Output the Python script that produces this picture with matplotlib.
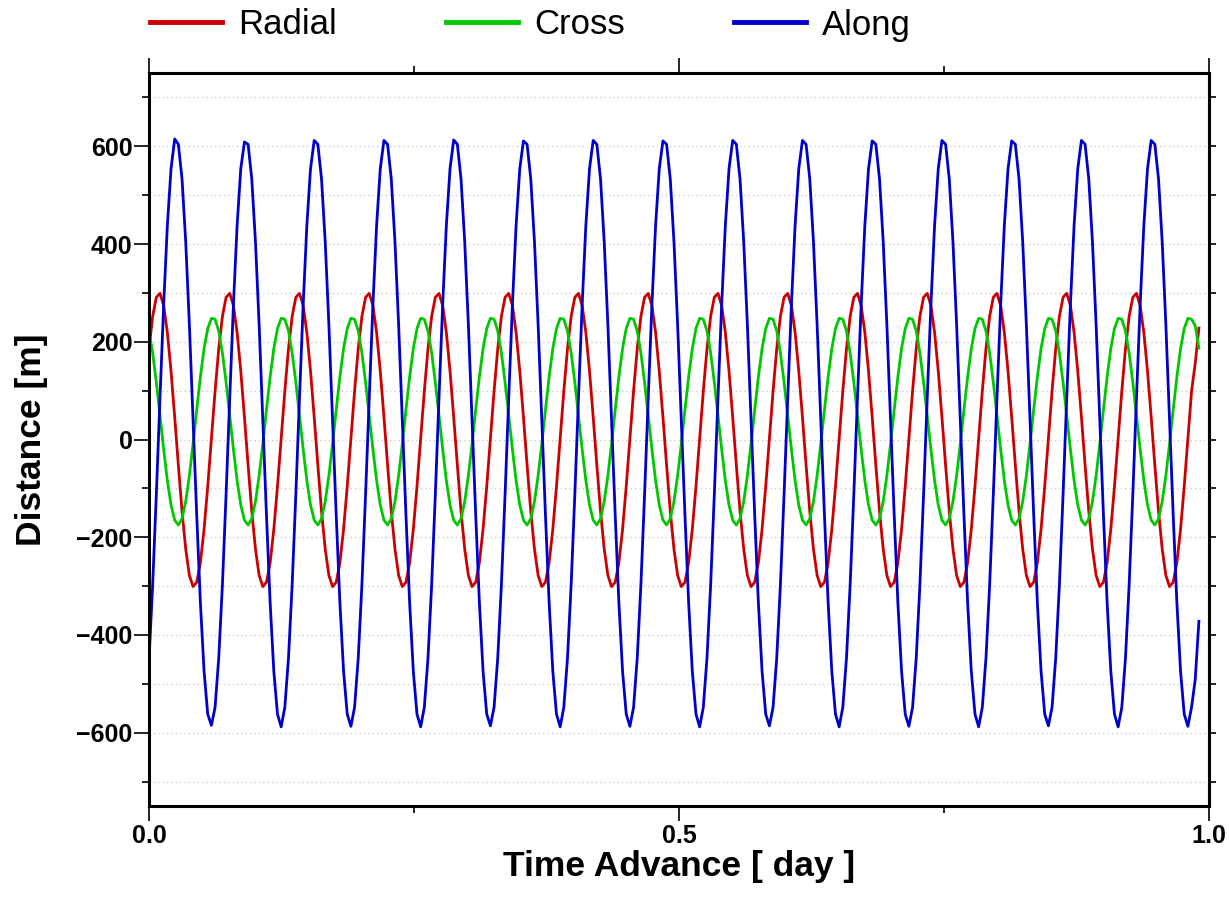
import numpy as np
import matplotlib.pyplot as plt
from matplotlib.ticker import MultipleLocator, FormatStrFormatter

plt.rcParams['font.family'] = ['Liberation Sans', 'DejaVu Sans']
plt.rcParams['font.weight'] = 'bold'

# orbit differences (m), one sample about every 5 min
dt_min = 4.987

radial = [
    186, 252, 291, 299, 274, 219, 140, 46, -53, -147, -224, -278, -301, -292, -252, -184, -96, 2, 99,
    186, 252, 291, 299, 274, 219, 140, 46, -53, -147, -224, -278, -301, -292, -252, -184, -96, 2, 99,
    186, 252, 291, 299, 274, 219, 140, 46, -53, -147, -224, -278, -301, -292, -252, -184, -96, 2, 99,
    186, 252, 291, 299, 274, 219, 140, 46, -53, -147, -224, -278, -301, -292, -252, -184, -96, 2, 99,
    186, 252, 291, 299, 274, 219, 140, 46, -53, -147, -224, -278, -301, -292, -252, -184, -96, 2, 99,
    186, 252, 291, 299, 274, 219, 140, 46, -53, -147, -224, -278, -301, -292, -252, -184, -96, 2, 99,
    186, 252, 291, 299, 274, 219, 140, 46, -53, -147, -224, -278, -301, -292, -252, -184, -96, 2, 99,
    186, 252, 291, 299, 274, 219, 140, 46, -53, -147, -224, -278, -301, -292, -252, -184, -96, 2, 99,
    186, 252, 291, 299, 274, 219, 140, 46, -53, -147, -224, -278, -301, -292, -252, -184, -96, 2, 99,
    186, 252, 291, 299, 274, 219, 140, 46, -53, -147, -224, -278, -301, -292, -252, -184, -96, 2, 99,
    186, 252, 291, 299, 274, 219, 140, 46, -53, -147, -224, -278, -301, -292, -252, -184, -96, 2, 99,
    186, 252, 291, 299, 274, 219, 140, 46, -53, -147, -224, -278, -301, -292, -252, -184, -96, 2, 99,
    186, 252, 291, 299, 274, 219, 140, 46, -53, -147, -224, -278, -301, -292, -252, -184, -96, 2, 99,
    186, 252, 291, 299, 274, 219, 140, 46, -53, -147, -224, -278, -301, -292, -252, -184, -96, 2, 99,
    186, 252, 291, 299, 274, 219, 140, 46, -53, -147, -224, -278, -301, -292, -252, -184, -96, 2, 99,
    156, 228,
]

cross = [
    222, 177, 117, 49, -20, -84, -134, -165, -175, -162, -127, -74, -9, 61, 128, 186, 227, 248, 246,
    222, 177, 117, 49, -20, -84, -134, -165, -175, -162, -127, -74, -9, 61, 128, 186, 227, 248, 246,
    222, 177, 117, 49, -20, -84, -134, -165, -175, -162, -127, -74, -9, 61, 128, 186, 227, 248, 246,
    222, 177, 117, 49, -20, -84, -134, -165, -175, -162, -127, -74, -9, 61, 128, 186, 227, 248, 246,
    222, 177, 117, 49, -20, -84, -134, -165, -175, -162, -127, -74, -9, 61, 128, 186, 227, 248, 246,
    222, 177, 117, 49, -20, -84, -134, -165, -175, -162, -127, -74, -9, 61, 128, 186, 227, 248, 246,
    222, 177, 117, 49, -20, -84, -134, -165, -175, -162, -127, -74, -9, 61, 128, 186, 227, 248, 246,
    222, 177, 117, 49, -20, -84, -134, -165, -175, -162, -127, -74, -9, 61, 128, 186, 227, 248, 246,
    222, 177, 117, 49, -20, -84, -134, -165, -175, -162, -127, -74, -9, 61, 128, 186, 227, 248, 246,
    222, 177, 117, 49, -20, -84, -134, -165, -175, -162, -127, -74, -9, 61, 128, 186, 227, 248, 246,
    222, 177, 117, 49, -20, -84, -134, -165, -175, -162, -127, -74, -9, 61, 128, 186, 227, 248, 246,
    222, 177, 117, 49, -20, -84, -134, -165, -175, -162, -127, -74, -9, 61, 128, 186, 227, 248, 246,
    222, 177, 117, 49, -20, -84, -134, -165, -175, -162, -127, -74, -9, 61, 128, 186, 227, 248, 246,
    222, 177, 117, 49, -20, -84, -134, -165, -175, -162, -127, -74, -9, 61, 128, 186, 227, 248, 246,
    222, 177, 117, 49, -20, -84, -134, -165, -175, -162, -127, -74, -9, 61, 128, 186, 227, 248, 246,
    233, 187,
]

along = [
    -451, -297, -112, 86, 276, 438, 554, 615, 604, 533, 405, 235, 42, -155, -334, -474, -562, -585, -548,
    -447, -297, -112, 86, 276, 438, 554, 609, 604, 533, 405, 235, 42, -155, -334, -474, -562, -588, -548,
    -447, -297, -112, 86, 276, 438, 554, 612, 604, 533, 405, 235, 42, -155, -334, -474, -562, -587, -548,
    -447, -297, -112, 86, 276, 438, 554, 612, 604, 533, 405, 235, 42, -155, -334, -474, -562, -588, -548,
    -447, -297, -112, 86, 276, 438, 554, 613, 604, 533, 405, 235, 42, -155, -334, -474, -562, -586, -548,
    -447, -297, -112, 86, 276, 438, 554, 611, 604, 533, 405, 235, 42, -155, -334, -474, -562, -588, -548,
    -447, -297, -112, 86, 276, 438, 554, 612, 604, 533, 405, 235, 42, -155, -334, -474, -562, -587, -548,
    -447, -297, -112, 86, 276, 438, 554, 611, 604, 533, 405, 235, 42, -155, -334, -474, -562, -588, -548,
    -447, -297, -112, 86, 276, 438, 554, 612, 604, 533, 405, 235, 42, -155, -334, -474, -562, -586, -548,
    -447, -297, -112, 86, 276, 438, 554, 612, 604, 533, 405, 235, 42, -155, -334, -474, -562, -588, -548,
    -447, -297, -112, 86, 276, 438, 554, 611, 604, 533, 405, 235, 42, -155, -334, -474, -562, -587, -548,
    -447, -297, -112, 86, 276, 438, 554, 612, 604, 533, 405, 235, 42, -155, -334, -474, -562, -588, -548,
    -447, -297, -112, 86, 276, 438, 554, 611, 604, 533, 405, 235, 42, -155, -334, -474, -562, -586, -548,
    -447, -297, -112, 86, 276, 438, 554, 612, 604, 533, 405, 235, 42, -155, -334, -474, -562, -588, -548,
    -447, -297, -112, 86, 276, 438, 554, 612, 604, 533, 405, 235, 42, -155, -334, -474, -562, -587, -548,
    -491, -372,
]

labels = ["Radial", "Cross", "Along"]
colors = ["#cc0000", "#00c800", "#0000cc"]

t = np.arange(len(radial)) * dt_min / 1440.0

fig = plt.figure(figsize=(12.29, 9.13), dpi=100)
ax = fig.add_axes([149/1229, 1 - 806/913, 1060/1229, 733/913])

for y, lab, c in zip([radial, cross, along], labels, colors):
    ax.plot(t, y, color=c, lw=2.0, label=lab)

ax.set_xlim(0, 1)
ax.set_ylim(-750, 750)
ax.xaxis.set_major_locator(MultipleLocator(0.5))
ax.xaxis.set_minor_locator(MultipleLocator(0.25))
ax.xaxis.set_major_formatter(FormatStrFormatter('%.1f'))
ax.yaxis.set_major_locator(MultipleLocator(200))
ax.yaxis.set_minor_locator(MultipleLocator(100))

ax.set_axisbelow(True)
ax.grid(axis='y', which='both', color='#c4c4c4', lw=0.9, linestyle=(0, (1, 2.5)))

for s in ax.spines.values():
    s.set_linewidth(2.2)
ax.tick_params(axis='x', which='both', top=True, direction='out', width=1.2)
ax.tick_params(axis='y', which='both', right=False, direction='out', width=1.2)
ax.tick_params(which='major', length=11)
ax.tick_params(which='minor', length=5)
ax.tick_params(axis='x', labelsize=18, pad=2)
ax.tick_params(axis='y', labelsize=18, pad=0.8)

sec = ax.secondary_yaxis('right')
sec.yaxis.set_major_locator(MultipleLocator(100))
sec.tick_params(direction='out', length=5, width=1.2, labelright=False)
sec.spines['right'].set_linewidth(2.2)

ax.set_xlabel("Time Advance [ day ]", fontsize=25.5, fontweight='bold')
ax.xaxis.set_label_coords(0.5, -0.060)
ax.set_ylabel("Distance [m]", fontsize=25.5, fontweight='bold')
ax.yaxis.set_label_coords(-0.0955, 0.5)

leg = ax.legend(loc='center left', bbox_to_anchor=(150/1229, 1 - 25/913),
                bbox_transform=fig.transFigure, ncol=3, frameon=False,
                borderpad=0, borderaxespad=0, handlelength=2.07,
                handletextpad=0.46, columnspacing=3.15,
                prop={'size': 25, 'weight': 'normal'})
for h in leg.legend_handles:
    h.set_linewidth(3.5)

fig.savefig("out.png", dpi=100)
